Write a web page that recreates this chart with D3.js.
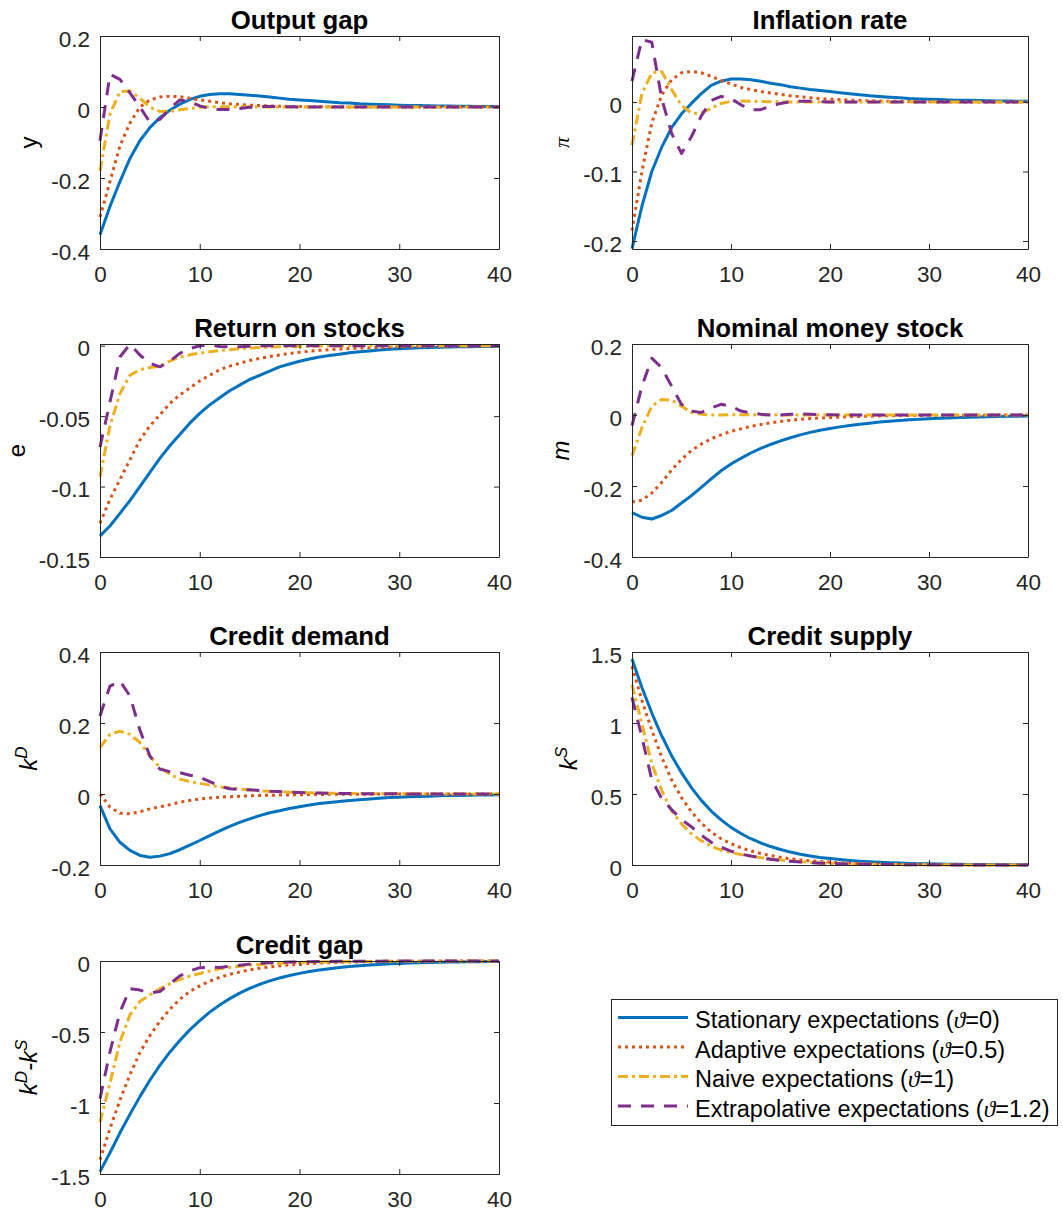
<!DOCTYPE html>
<html>
<head>
<meta charset="utf-8">
<script src="https://d3js.org/d3.v7.min.js"></script>
<style>
    body { margin: 0; background: #fff; }
    text { font-family: "Liberation Sans", Arial, sans-serif; fill: #262626; }
</style>
</head>
<body>
<div id="chart"></div>
<script>
// impulse responses, one value per period 0..40

var periods = d3.range(0, 41);

// output gap
var y_stat = [-0.36, -0.28, -0.21, -0.145, -0.095, -0.058, -0.03, -0.009, 0.008, 0.021, 0.03,
    0.035, 0.037, 0.037, 0.035, 0.033, 0.031, 0.028, 0.025, 0.022, 0.02,
    0.018, 0.016, 0.014, 0.012, 0.011, 0.009, 0.008, 0.007, 0.006, 0.005,
    0.0045, 0.004, 0.0035, 0.003, 0.0026, 0.0022, 0.0019, 0.0016, 0.0014, 0.0012];
var y_adap = [-0.31, -0.21, -0.11, -0.045, 0.0, 0.02, 0.028, 0.03, 0.029, 0.025, 0.02,
    0.016, 0.012, 0.009, 0.007, 0.005, 0.004, 0.003, 0.0022, 0.0016, 0.0012,
    0.0009, 0.0007, 0.0005, 0.0004, 0.0003, 0.0002, 0.0002, 0.0001, 0.0001, 0.0001,
    0, 0, 0, 0, 0, 0, 0, 0, 0, 0];
var y_naive = [-0.18, -0.02, 0.043, 0.045, 0.025, 0.0, -0.013, -0.012, -0.008, -0.004, -0.001,
    0.0005, 0.001, 0.001, 0.0008, 0.0005, 0.0003, 0.0002, 0.0001, 0, 0,
    0, 0, 0, 0, 0, 0, 0, 0, 0, 0,
    0, 0, 0, 0, 0, 0, 0, 0, 0, 0];
var y_extra = [-0.095, 0.092, 0.078, 0.04, 0.0, -0.043, -0.035, -0.005, 0.02, 0.015, 0.003,
    -0.004, -0.007, -0.007, -0.004, -0.001, 0.001, 0.0015, 0.001, 0.0005, 0.0002,
    0, 0, 0, 0, 0, 0, 0, 0, 0, 0,
    0, 0, 0, 0, 0, 0, 0, 0, 0, 0];

// inflation rate
var pi_stat = [-0.211, -0.15, -0.10, -0.065, -0.037, -0.017, -0.002, 0.012, 0.024, 0.03, 0.033,
    0.033, 0.032, 0.03, 0.027, 0.025, 0.022, 0.02, 0.018, 0.0165, 0.015,
    0.0135, 0.012, 0.0105, 0.009, 0.008, 0.007, 0.006, 0.005, 0.0045, 0.004,
    0.0035, 0.003, 0.0027, 0.0024, 0.0021, 0.0018, 0.0016, 0.0014, 0.0012, 0.001];
var pi_adap = [-0.185, -0.10, -0.03, 0.01, 0.032, 0.042, 0.044, 0.042, 0.037, 0.031, 0.026,
    0.021, 0.018, 0.015, 0.013, 0.011, 0.009, 0.0075, 0.0062, 0.005, 0.0042,
    0.0034, 0.0028, 0.0022, 0.0018, 0.0014, 0.0011, 0.0009, 0.0007, 0.0005, 0.0004,
    0.0003, 0.0002, 0.0002, 0.0001, 0.0001, 0, 0, 0, 0, 0];
var pi_naive = [-0.062, 0.012, 0.042, 0.044, 0.018, -0.005, -0.016, -0.016, -0.009, -0.002, 0.001,
    0.0015, 0.0012, 0.0008, 0.0004, 0.0002, 0.0001, 0, 0, 0, 0,
    0, 0, 0, 0, 0, 0, 0, 0, 0, 0,
    0, 0, 0, 0, 0, 0, 0, 0, 0, 0];
var pi_extra = [0.03, 0.09, 0.086, 0.005, -0.045, -0.074, -0.05, -0.02, 0.002, 0.008, 0.005,
    -0.004, -0.011, -0.011, -0.006, -0.002, 0.0005, 0.0012, 0.001, 0.0005, 0.0002,
    0.0001, 0, 0, 0, 0, 0, 0, 0, 0, 0,
    0, 0, 0, 0, 0, 0, 0, 0, 0, 0];

// return on stocks
var e_stat = [-0.135, -0.128, -0.119, -0.110, -0.100, -0.090, -0.080, -0.071, -0.063, -0.055, -0.048,
    -0.042, -0.037, -0.032, -0.028, -0.024, -0.021, -0.018, -0.015, -0.013, -0.011,
    -0.0095, -0.008, -0.007, -0.006, -0.005, -0.0043, -0.0037, -0.0031, -0.0026, -0.0022,
    -0.0018, -0.0015, -0.0013, -0.0011, -0.0009, -0.0008, -0.0007, -0.0006, -0.0005, -0.0004];
var e_adap = [-0.126, -0.109, -0.095, -0.081, -0.067, -0.057, -0.049, -0.041, -0.035, -0.030, -0.025,
    -0.021, -0.017, -0.0145, -0.0125, -0.0105, -0.009, -0.0077, -0.0066, -0.0055, -0.0046,
    -0.0039, -0.0033, -0.0028, -0.0024, -0.002, -0.0017, -0.0014, -0.0012, -0.001, -0.0008,
    -0.0007, -0.0006, -0.0005, -0.0004, -0.0003, -0.0003, -0.0002, -0.0002, -0.0001, -0.0001];
var e_naive = [-0.093, -0.057, -0.034, -0.021, -0.017, -0.0155, -0.0145, -0.011, -0.008, -0.0065, -0.0053,
    -0.0043, -0.0035, -0.0028, -0.0022, -0.0017, -0.0013, -0.001, -0.0008, -0.0006, -0.0005,
    -0.0004, -0.0003, -0.0002, -0.0002, -0.0001, -0.0001, 0, 0, 0, 0,
    0, 0, 0, 0, 0, 0, 0, 0, 0, 0];
var e_extra = [-0.072, -0.04, -0.008, 0.001, -0.0066, -0.0125, -0.015, -0.011, -0.0055, -0.002, 0.0,
    0.0002, -0.0005, -0.0008, -0.0007, -0.0004, -0.0002, 0, 0, 0, 0,
    0, 0, 0, 0, 0, 0, 0, 0, 0, 0,
    0, 0, 0, 0, 0, 0, 0, 0, 0, 0];

// nominal money stock
var m_stat = [-0.275, -0.288, -0.293, -0.283, -0.269, -0.248, -0.227, -0.204, -0.18, -0.157, -0.138,
    -0.122, -0.107, -0.094, -0.083, -0.073, -0.064, -0.056, -0.049, -0.043, -0.038,
    -0.0335, -0.0295, -0.026, -0.023, -0.02, -0.0176, -0.0155, -0.0136, -0.012, -0.0106,
    -0.0093, -0.0082, -0.0072, -0.0063, -0.0056, -0.0049, -0.0043, -0.0038, -0.0033, -0.003];
var m_adap = [-0.245, -0.24, -0.22, -0.19, -0.155, -0.125, -0.10, -0.082, -0.067, -0.056, -0.046,
    -0.039, -0.032, -0.027, -0.022, -0.018, -0.015, -0.012, -0.010, -0.0085, -0.007,
    -0.0058, -0.0048, -0.004, -0.0033, -0.0027, -0.0022, -0.0018, -0.0015, -0.0012, -0.001,
    -0.0008, -0.0007, -0.0006, -0.0005, -0.0004, -0.0003, -0.0003, -0.0002, -0.0002, -0.0001];
var m_naive = [-0.115, -0.036, 0.025, 0.044, 0.042, 0.025, 0.007, 0.002, 0.0, 0.0, 0.001,
    0.001, 0.001, 0.0008, 0.0005, 0.0003, 0.0002, 0.0001, 0, 0, 0,
    0, 0, 0, 0, 0, 0, 0, 0, 0, 0,
    0, 0, 0, 0, 0, 0, 0, 0, 0, 0];
var m_extra = [-0.03, 0.081, 0.16, 0.133, 0.081, 0.03, 0.011, 0.007, 0.02, 0.03, 0.025,
    0.011, 0.006, 0.002, 0.0, 0.0, 0.002, 0.003, 0.002, 0.001, 0.0005,
    0.0002, 0, 0, 0, 0, 0, 0, 0, 0, 0,
    0, 0, 0, 0, 0, 0, 0, 0, 0, 0];

// credit demand
var kD_stat = [-0.033, -0.098, -0.136, -0.159, -0.173, -0.178, -0.175, -0.168, -0.157, -0.144, -0.131,
    -0.117, -0.104, -0.091, -0.080, -0.070, -0.061, -0.053, -0.047, -0.041, -0.036,
    -0.031, -0.027, -0.024, -0.021, -0.018, -0.016, -0.014, -0.012, -0.010, -0.009,
    -0.008, -0.007, -0.006, -0.005, -0.0045, -0.004, -0.0035, -0.003, -0.0026, -0.0022];
var kD_adap = [0.0, -0.037, -0.054, -0.056, -0.05, -0.042, -0.036, -0.03, -0.023, -0.018, -0.014,
    -0.011, -0.009, -0.0075, -0.0065, -0.005, -0.004, -0.0035, -0.003, -0.0025, -0.002,
    -0.0016, -0.0013, -0.001, -0.0008, -0.0006, -0.0005, -0.0004, -0.0003, -0.0003, -0.0002,
    -0.0002, -0.0001, -0.0001, 0, 0, 0, 0, 0, 0, 0];
var kD_naive = [0.131, 0.168, 0.177, 0.168, 0.145, 0.107, 0.075, 0.056, 0.042, 0.035, 0.03,
    0.025, 0.02, 0.017, 0.014, 0.011, 0.009, 0.0075, 0.006, 0.005, 0.004,
    0.0033, 0.0027, 0.0022, 0.0018, 0.0015, 0.0012, 0.001, 0.0008, 0.0007, 0.0006,
    0.0005, 0.0004, 0.0003, 0.0003, 0.0002, 0.0002, 0.0001, 0.0001, 0.0001, 0];
var kD_extra = [0.22, 0.304, 0.318, 0.276, 0.18, 0.107, 0.07, 0.063, 0.06, 0.053, 0.047,
    0.035, 0.022, 0.015, 0.013, 0.012, 0.01, 0.008, 0.007, 0.005, 0.004,
    0.003, 0.0025, 0.002, 0.0015, 0.0012, 0.001, 0.0008, 0.0006, 0.0005, 0.0004,
    0.0003, 0.0002, 0.0002, 0.0001, 0.0001, 0, 0, 0, 0, 0];

// credit supply
var kS_stat = [1.45, 1.25, 1.07, 0.91, 0.77, 0.65, 0.545, 0.455, 0.38, 0.318, 0.265,
    0.222, 0.185, 0.155, 0.13, 0.109, 0.091, 0.076, 0.064, 0.053, 0.045,
    0.038, 0.032, 0.027, 0.0225, 0.019, 0.016, 0.0134, 0.0113, 0.0095, 0.008,
    0.0067, 0.0056, 0.0047, 0.004, 0.0033, 0.0028, 0.0024, 0.002, 0.0017, 0.0014];
var kS_adap = [1.40, 1.16, 0.95, 0.76, 0.60, 0.475, 0.375, 0.295, 0.232, 0.185, 0.15,
    0.122, 0.099, 0.081, 0.066, 0.054, 0.044, 0.036, 0.029, 0.024, 0.019,
    0.0155, 0.0125, 0.010, 0.008, 0.0065, 0.0052, 0.0042, 0.0034, 0.0027, 0.0022,
    0.0018, 0.0014, 0.0011, 0.0009, 0.0007, 0.0006, 0.0005, 0.0004, 0.0003, 0.0002];
var kS_naive = [1.27, 0.995, 0.714, 0.526, 0.38, 0.29, 0.22, 0.17, 0.132, 0.105, 0.087,
    0.074, 0.063, 0.052, 0.043, 0.035, 0.029, 0.023, 0.019, 0.015, 0.012,
    0.01, 0.008, 0.0065, 0.0052, 0.0042, 0.0034, 0.0027, 0.0022, 0.0018, 0.0014,
    0.0011, 0.0009, 0.0007, 0.0006, 0.0005, 0.0004, 0.0003, 0.0003, 0.0002, 0.0002];
var kS_extra = [1.18, 0.90, 0.60, 0.467, 0.39, 0.32, 0.27, 0.21, 0.16, 0.125, 0.097,
    0.077, 0.063, 0.05, 0.04, 0.032, 0.026, 0.021, 0.017, 0.013, 0.011,
    0.009, 0.007, 0.0055, 0.0045, 0.0035, 0.003, 0.0024, 0.002, 0.0016, 0.0013,
    0.001, 0.0008, 0.0007, 0.0005, 0.0004, 0.0003, 0.0003, 0.0002, 0.0002, 0.0001];

// credit gap
var gap_stat = [-1.483, -1.35, -1.21, -1.08, -0.955, -0.84, -0.735, -0.642, -0.56, -0.485, -0.42,
    -0.36, -0.31, -0.265, -0.226, -0.193, -0.165, -0.14, -0.12, -0.102, -0.087,
    -0.074, -0.063, -0.054, -0.046, -0.039, -0.033, -0.028, -0.024, -0.02, -0.017,
    -0.0147, -0.0126, -0.0107, -0.009, -0.0078, -0.0068, -0.0059, -0.005, -0.0043, -0.0036];
var gap_adap = [-1.40, -1.18, -0.98, -0.80, -0.645, -0.525, -0.425, -0.34, -0.27, -0.215, -0.175,
    -0.142, -0.115, -0.094, -0.077, -0.063, -0.051, -0.042, -0.034, -0.028, -0.023,
    -0.0185, -0.015, -0.012, -0.0095, -0.0076, -0.006, -0.0048, -0.0038, -0.003, -0.0024,
    -0.002, -0.0015, -0.0012, -0.0009, -0.0007, -0.0006, -0.0005, -0.0004, -0.0003, -0.0002];
var gap_naive = [-1.136, -0.86, -0.57, -0.38, -0.285, -0.24, -0.195, -0.16, -0.13, -0.106, -0.088,
    -0.07, -0.055, -0.045, -0.037, -0.03, -0.024, -0.019, -0.016, -0.013, -0.011,
    -0.009, -0.0075, -0.006, -0.005, -0.004, -0.0033, -0.0027, -0.0022, -0.0018, -0.0015,
    -0.0012, -0.001, -0.0008, -0.0007, -0.0006, -0.0005, -0.0004, -0.0003, -0.0003, -0.0002];
var gap_extra = [-0.97, -0.64, -0.36, -0.195, -0.205, -0.225, -0.215, -0.16, -0.105, -0.07, -0.047,
    -0.043, -0.045, -0.038, -0.03, -0.022, -0.016, -0.012, -0.009, -0.007, -0.006,
    -0.005, -0.004, -0.003, -0.0025, -0.002, -0.0016, -0.0013, -0.001, -0.0008, -0.0006,
    -0.0005, -0.0004, -0.0003, -0.0003, -0.0002, -0.0002, -0.0001, -0.0001, -0.0001, 0];

var xTicks = [0, 10, 20, 30, 40];
var legendNames = ['Stationary expectations', 'Adaptive expectations', 'Naive expectations', 'Extrapolative expectations'];
var legendTheta = ['0', '0.5', '1', '1.2'];

var colors = ['#0072BD', '#D95319', '#EDB120', '#7E2F8E'];
var dashes = [null, '3,4', '10,4,3,4', '13,10'];

// label parts: [text, superscript?]
var panels = [
    {title: 'Output gap', label: [['y', 0]], domain: [-0.4, 0.2], ticks: [-0.4, -0.2, 0, 0.2],
        series: [y_stat, y_adap, y_naive, y_extra]},
    {title: 'Inflation rate', label: [['π', 0]], greek: true, domain: [-0.2115, 0.095], ticks: [-0.2, -0.1, 0],
        series: [pi_stat, pi_adap, pi_naive, pi_extra]},
    {title: 'Return on stocks', label: [['e', 0]], domain: [-0.15, 0.0012], ticks: [-0.15, -0.1, -0.05, 0],
        series: [e_stat, e_adap, e_naive, e_extra]},
    {title: 'Nominal money stock', label: [['m', 0]], italic: true, domain: [-0.4, 0.2], ticks: [-0.4, -0.2, 0, 0.2],
        series: [m_stat, m_adap, m_naive, m_extra]},
    {title: 'Credit demand', label: [['k', 0], ['D', 1]], italic: true, domain: [-0.2, 0.4], ticks: [-0.2, 0, 0.2, 0.4],
        series: [kD_stat, kD_adap, kD_naive, kD_extra]},
    {title: 'Credit supply', label: [['k', 0], ['S', 1]], italic: true, domain: [0, 1.5], ticks: [0, 0.5, 1, 1.5],
        series: [kS_stat, kS_adap, kS_naive, kS_extra]},
    {title: 'Credit gap', label: [['k', 0], ['D', 1], ['-', 0], ['k', 0], ['S', 1]], italic: true, domain: [-1.5, 0], ticks: [-1.5, -1, -0.5, 0],
        series: [gap_stat, gap_adap, gap_naive, gap_extra]}
];

var width = 1063, height = 1214;
var cols = [[100, 499], [632, 1028]];
var rowTops = [36, 344, 652, 961];
var plotH = 213;
var axisColor = '#262626';

var svg = d3.select('#chart').append('svg')
    .attr('width', width)
    .attr('height', height)
    .style('background', '#fff');

function fmt(d) {
    return String(Math.round(d * 100) / 100);
}

function styleAxis(g) {
    g.selectAll('path, line').attr('stroke', axisColor).attr('stroke-width', 1);
    g.selectAll('text').attr('fill', axisColor).style('font-size', '22.5px')
        .style('font-family', '"Liberation Sans", Arial, sans-serif');
}

panels.forEach(function (p, i) {
    var col = cols[i % 2];
    var top = rowTops[Math.floor(i / 2)];
    var x = d3.scaleLinear().domain([0, 40]).range(col);
    var y = d3.scaleLinear().domain(p.domain).range([top + plotH, top]);

    var g = svg.append('g');

    // lines first, axes drawn over them like matlab
    var line = d3.line()
        .x(function (d, j) { return x(periods[j]); })
        .y(function (d) { return y(d); });

    p.series.forEach(function (s, k) {
        g.append('path')
            .attr('d', line(s))
            .attr('fill', 'none')
            .attr('stroke', colors[k])
            .attr('stroke-width', 3)
            .attr('stroke-linejoin', 'round')
            .attr('stroke-dasharray', dashes[k]);
    });

    var bottom = g.append('g').attr('transform', 'translate(0,' + (top + plotH) + ')')
        .call(d3.axisBottom(x).tickValues(xTicks).tickSizeInner(-5).tickSizeOuter(0).tickPadding(17).tickFormat(fmt));
    var topAx = g.append('g').attr('transform', 'translate(0,' + top + ')')
        .call(d3.axisTop(x).tickValues(xTicks).tickSizeInner(-5).tickSizeOuter(0).tickFormat(''));
    var left = g.append('g').attr('transform', 'translate(' + col[0] + ',0)')
        .call(d3.axisLeft(y).tickValues(p.ticks).tickSizeInner(-5).tickSizeOuter(0).tickPadding(10).tickFormat(fmt));
    var right = g.append('g').attr('transform', 'translate(' + col[1] + ',0)')
        .call(d3.axisRight(y).tickValues(p.ticks).tickSizeInner(-5).tickSizeOuter(0).tickFormat(''));
    [bottom, topAx, left, right].forEach(styleAxis);
    left.selectAll('text').attr('dy', '0.45em');
    bottom.selectAll('text').attr('dy', '0.71em');

    g.append('text')
        .attr('x', (col[0] + col[1]) / 2)
        .attr('y', top - 7)
        .attr('text-anchor', 'middle')
        .style('font-size', '25.8px')
        .style('font-weight', 'bold')
        .style('fill', '#000')
        .text(p.title);

    // y label sits left of the widest tick label
    var bb = left.node().getBBox();
    var lx = col[0] + bb.x - 14;
    var lab = g.append('text')
        .attr('transform', 'translate(' + lx + ',' + (top + plotH / 2) + ') rotate(-90)')
        .attr('text-anchor', 'middle')
        .style('font-size', '24px')
        .style('font-style', p.italic || p.greek ? 'italic' : 'normal')
        .style('fill', '#000');
    if (p.greek) lab.style('font-family', '"Liberation Serif", "DejaVu Serif", serif').style('font-size', '22px');
    var up = false;
    p.label.forEach(function (part) {
        var ts = lab.append('tspan').text(part[0]);
        if (part[1] && !up) { ts.attr('dy', -10).style('font-size', '17px'); up = true; }
        else if (part[1]) { ts.style('font-size', '17px'); }
        else if (up) { ts.attr('dy', 10); up = false; }
    });
});

// legend
var lg = svg.append('g');
lg.append('rect')
    .attr('x', 611.5).attr('y', 999.5)
    .attr('width', 446).attr('height', 126)
    .attr('fill', '#fff')
    .attr('stroke', axisColor)
    .attr('stroke-width', 1);

legendNames.forEach(function (name, k) {
    var ly = 1017.5 + k * 29.5;
    lg.append('line')
        .attr('x1', 618).attr('x2', 688)
        .attr('y1', ly).attr('y2', ly)
        .attr('stroke', colors[k])
        .attr('stroke-width', 3)
        .attr('stroke-dasharray', dashes[k]);
    var t = lg.append('text')
        .attr('x', 695)
        .attr('y', ly + 10.5)
        .style('font-size', '23.5px')
        .style('fill', '#000');
    t.append('tspan').text(name + ' (');
    t.append('tspan').text('ϑ')
        .style('font-family', '"Liberation Serif", "DejaVu Serif", serif')
        .style('font-style', 'italic');
    t.append('tspan').text('=' + legendTheta[k] + ')');
});
</script>
</body>
</html>
